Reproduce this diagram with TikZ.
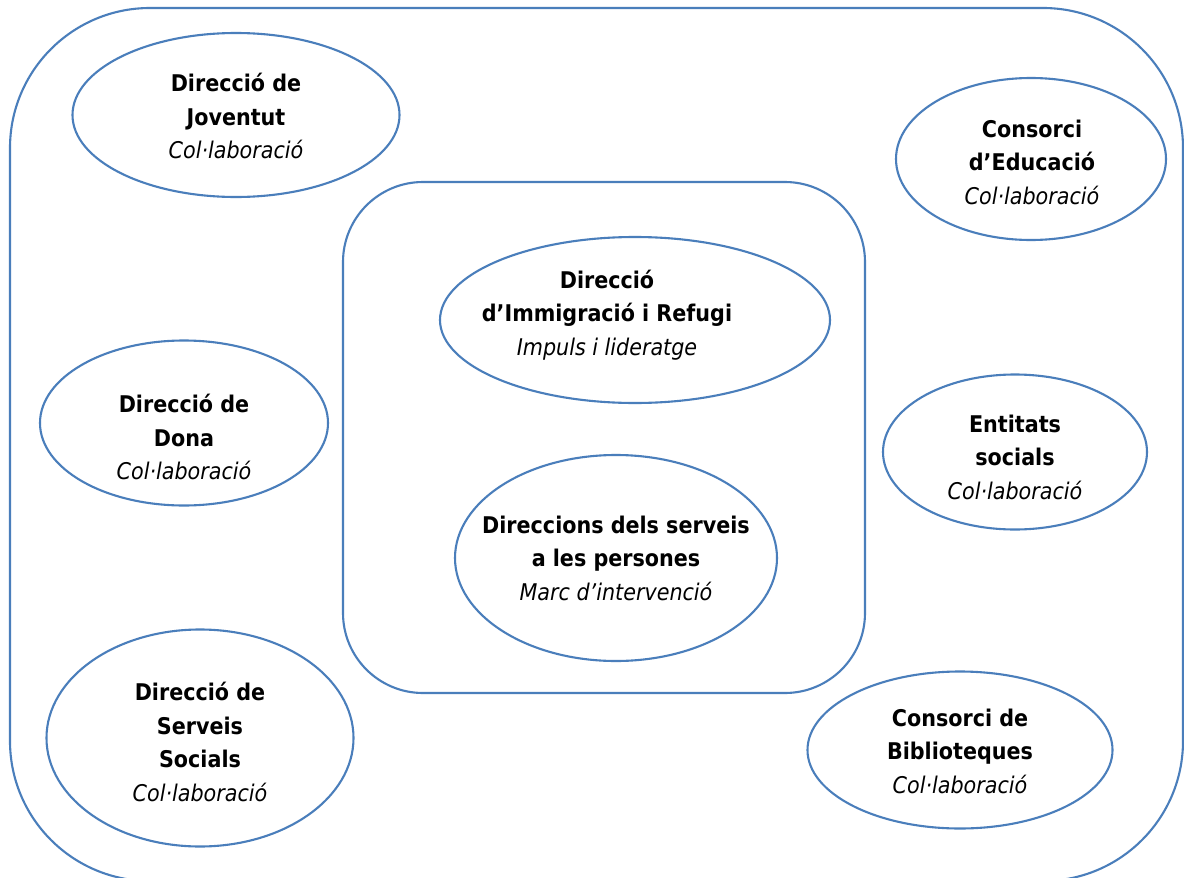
\documentclass[tikz,border=0pt]{standalone}
\usepackage{fontspec}
\setmainfont{DejaVu Sans Condensed}
\usetikzlibrary{shapes.geometric}
\definecolor{lineblue}{RGB}{74,126,187}
\tikzset{
  oval/.style={draw=lineblue, line width=2.1pt, ellipse, inner sep=0pt},
  frame/.style={draw=lineblue, line width=2.1pt},
  lbl/.style={align=center, inner sep=0pt, font=\fontsize{23}{33.5}\selectfont},
}
\newcommand{\hd}[1]{\textbf{#1}}
\newcommand{\sub}[1]{\textit{#1}}
\begin{document}
\begin{tikzpicture}[x=1pt,y=-1pt]
\useasboundingbox (0,0) rectangle (1184,878);
\clip (0,0) rectangle (1184,878);
\fill[white] (0,0) rectangle (1184,878);
% outer frame
\draw[frame, rounded corners=140pt] (10,8) rectangle (1183,881);
% inner frame
\draw[frame, rounded corners=80pt] (343,182) rectangle (865,693);
% ellipses
\node[oval, minimum width=327pt, minimum height=164pt] (joventut) at (236,115) {};
\node[oval, minimum width=270pt, minimum height=162pt] (educacio) at (1031,159) {};
\node[oval, minimum width=390pt, minimum height=166pt] (immigracio) at (635,320) {};
\node[oval, minimum width=322pt, minimum height=206pt] (direccions) at (616,558) {};
\node[oval, minimum width=288pt, minimum height=165pt] (dona) at (184,423) {};
\node[oval, minimum width=264pt, minimum height=155pt] (entitats) at (1015,452) {};
\node[oval, minimum width=307pt, minimum height=217pt] (serveis) at (200,738) {};
\node[oval, minimum width=305pt, minimum height=157pt] (biblioteques) at (960,750) {};
% labels
\node[lbl] (tjoventut) at (236,116) {\hd{Direcció de}\\\hd{Joventut}\\\sub{Col·laboració}};
\node[lbl] (teducacio) at (1032,162) {\hd{Consorci}\\\hd{d’Educació}\\\sub{Col·laboració}};
\node[lbl] (timmigracio) at (607,315) {\hd{Direcció}\\\hd{d’Immigració i Refugi}\\\sub{Impuls i lideratge}};
\node[lbl] (tdireccions) at (616,558) {\hd{Direccions dels serveis}\\\hd{a les persones}\\\sub{Marc d’intervenció}};
\node[lbl] (tdona) at (184,437) {\hd{Direcció de}\\\hd{Dona}\\\sub{Col·laboració}};
\node[lbl] (tentitats) at (1015,457) {\hd{Entitats}\\\hd{socials}\\\sub{Col·laboració}};
\node[lbl] (tserveis) at (200,742) {\hd{Direcció de}\\\hd{Serveis}\\\hd{Socials}\\\sub{Col·laboració}};
\node[lbl] (tbiblioteques) at (960,751) {\hd{Consorci de}\\\hd{Biblioteques}\\\sub{Col·laboració}};
\end{tikzpicture}
\end{document}
